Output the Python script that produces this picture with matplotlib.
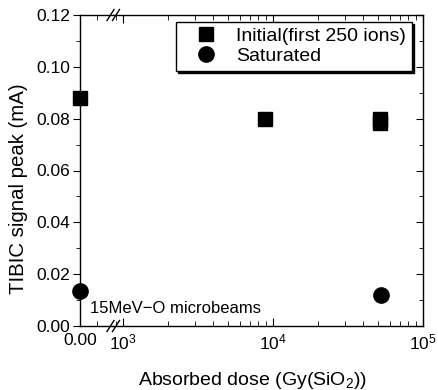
import matplotlib
matplotlib.use("Agg")
import matplotlib.pyplot as plt
from matplotlib.lines import Line2D
from matplotlib.ticker import FixedLocator, NullFormatter, LogLocator, MultipleLocator

# ---- data ----
zero_dose = [0.0]
initial_zero = [0.088]
saturated_zero = [0.0135]

initial_dose = [8.9e3, 5.2e4, 5.2e4]
initial_peak = [0.0800, 0.0800, 0.0785]
saturated_dose = [5.25e4]
saturated_peak = [0.012]

series_labels = ["Initial(first 250 ions)", "Saturated"]
y_ticks = [0.00, 0.02, 0.04, 0.06, 0.08, 0.10, 0.12]
x_label = "Absorbed dose (Gy(SiO$_2$))"
y_label = "TIBIC signal peak (mA)"
note = "15MeV\u2212O microbeams"

plt.rcParams['font.family'] = ['Liberation Sans', 'DejaVu Sans']
plt.rcParams['mathtext.fontset'] = 'custom'
plt.rcParams['mathtext.rm'] = 'Liberation Sans'
plt.rcParams['mathtext.it'] = 'Liberation Sans:italic'
plt.rcParams['mathtext.bf'] = 'Liberation Sans:bold'

W, H = 438, 390
fig = plt.figure(figsize=(W / 100, H / 100), dpi=100)

left_px, split_px, right_px = 80, 113, 423
top_px, bot_px = 15, 326

def frac_x(px):
    return px / W

def frac_y(py):
    return 1 - py / H

ax_h = (bot_px - top_px) / H
ax1 = fig.add_axes([frac_x(left_px), frac_y(bot_px), (split_px - left_px) / W, ax_h])
ax2 = fig.add_axes([frac_x(split_px), frac_y(bot_px), (right_px - split_px) / W, ax_h], sharey=ax1)

ms_sq, ms_ci = 10, 11
for ax in (ax1, ax2):
    for s in ax.spines.values():
        s.set_linewidth(1.0)

ax1.plot(zero_dose, initial_zero, 's', color='k', ms=ms_sq, clip_on=False, zorder=5)
ax1.plot(zero_dose, saturated_zero, 'o', color='k', ms=ms_ci, clip_on=False, zorder=5)
ax2.plot(initial_dose, initial_peak, 's', color='k', ms=ms_sq, clip_on=False, zorder=5)
ax2.plot(saturated_dose, saturated_peak, 'o', color='k', ms=ms_ci, clip_on=False, zorder=5)

# y axis
ax1.set_ylim(0, 0.12)
ax1.yaxis.set_major_locator(FixedLocator(y_ticks))
ax1.yaxis.set_minor_locator(MultipleLocator(0.01))
ax1.set_yticklabels([f"{v:.2f}" for v in y_ticks])
ax1.tick_params(axis='y', which='both', direction='out', left=True, right=False,
                labelsize=12.5, pad=2)
ax1.tick_params(axis='y', which='major', length=5)
ax1.tick_params(axis='y', which='minor', length=3)
ax1.spines['right'].set_visible(False)

# left segment x
ax1.set_xlim(0, 0.02)
ax1.xaxis.set_major_locator(FixedLocator([0.0]))
ax1.xaxis.set_minor_locator(FixedLocator([0.01]))
ax1.set_xticklabels(["0.00"])
ax1.tick_params(axis='x', which='both', direction='in', top=True, bottom=True,
                labelsize=12.5, pad=5)
ax1.tick_params(axis='x', which='major', length=0)
ax1.tick_params(axis='x', which='minor', length=3.5)

# right log segment
ax2.set_xscale('log')
ax2.set_xlim(10 ** (3 - (123 - split_px) / 150), 1e5)
ax2.xaxis.set_major_locator(FixedLocator([1e3, 1e4, 1e5]))
ax2.xaxis.set_minor_locator(LogLocator(base=10, subs=range(2, 10), numticks=20))
ax2.xaxis.set_minor_formatter(NullFormatter())
ax2.set_xticklabels(["$10^3$", "$10^4$", "$10^5$"])
ax2.tick_params(axis='x', which='both', direction='in', top=True, bottom=True,
                labelsize=12.5, pad=5)
ax2.tick_params(axis='x', which='major', length=6)
ax2.tick_params(axis='x', which='minor', length=3.5)
ax2.spines['left'].set_visible(False)
ax2.tick_params(axis='y', which='both', left=False, labelleft=False, right=True,
                direction='in')
ax2.tick_params(axis='y', which='major', length=5)
ax2.tick_params(axis='y', which='minor', length=3)

# break marks
for ypx in (top_px, bot_px):
    for xc in (110.5, 116):
        fig.add_artist(Line2D([frac_x(xc - 3.5), frac_x(xc + 3.5)],
                              [frac_y(ypx + 5.5), frac_y(ypx - 5.5)],
                              color='k', lw=1.0))

# labels
fig.text(frac_x(253), frac_y(385), x_label, ha='center', va='baseline', fontsize=14)
fig.text(frac_x(18.5), frac_y(189), y_label, ha='center', va='center', rotation=90, fontsize=14.7)
fig.text(frac_x(90.5), frac_y(313), note, ha='left', va='baseline', fontsize=12)

# legend
handles = [Line2D([], [], ls='none', marker='s', color='k', ms=ms_sq),
           Line2D([], [], ls='none', marker='o', color='k', ms=ms_ci)]
leg = ax2.legend(handles, series_labels, loc='upper right',
                 bbox_to_anchor=(frac_x(411.7), frac_y(21.7)), bbox_transform=fig.transFigure,
                 fontsize=14, frameon=True, fancybox=False, borderaxespad=0,
                 handlelength=2.5, handletextpad=0.3, borderpad=0.3, labelspacing=0.1,
                 shadow={'facecolor': 'k', 'edgecolor': 'k', 'alpha': 1})
leg.get_frame().set_edgecolor('k')
leg.get_frame().set_linewidth(1.0)

fig.savefig("out.png", dpi=100)
